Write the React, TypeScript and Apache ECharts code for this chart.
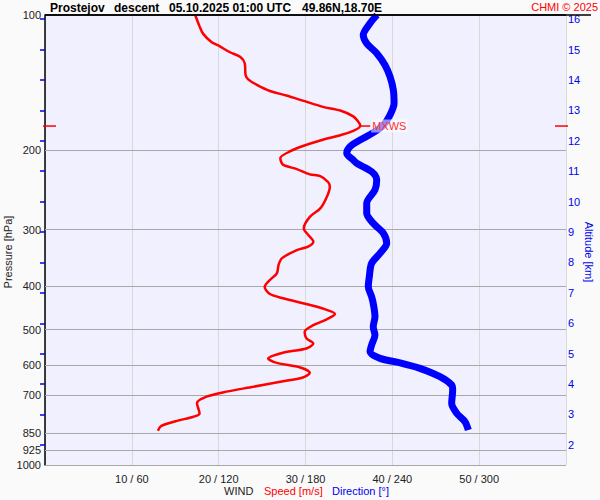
import React, { useEffect, useRef } from "react";
import * as echarts from "echarts";

const FONT = "'Liberation Sans', Arial, sans-serif";

// Wind speed profile (m/s) vs pressure (hPa)
const speedPressure = [100,106,110,115,117,121,124,128,136,139,143,147.5,151,155,160,163,168,174,176.5,181,185,190,195.5,201,208,215,220,226,228,235,241,255,269,281,298,308,319,327,333,347,359,375,388,402,417,426,437,449,462,475,489,506,523,537,551,563,580,593,607,624,639,653,670,687,705,729,768,781,798,819,839];
const speedValues = [17.3,17.8,18.2,19.2,20.0,21.3,22.5,23.0,23.1,23.4,24.4,25.9,27.8,29.7,32.0,34.0,35.5,36.2,36.3,35.5,34.0,31.7,29.7,28.2,27.1,27.4,29.0,30.5,31.7,32.6,32.8,32.4,31.7,30.5,29.8,30.3,30.9,30.3,29.0,27.3,26.9,26.7,25.9,25.3,25.9,27.4,29.7,32.0,33.4,32.4,30.9,29.9,30.1,30.9,30.1,27.4,25.7,26.7,29.4,30.5,29.7,27.1,24.0,20.9,18.6,17.5,17.8,17.1,15.2,13.4,13.0];

// Wind direction profile (deg) vs pressure (hPa)
const dirPressure = [100,104.3,110.8,115.6,121.6,129.1,137.1,146.8,157.1,166.8,175.6,182.6,189.6,196.2,202.9,210,213.6,222.9,232.6,244.8,262,275.9,290.3,305.6,321.6,338.4,356.3,381.5,401.6,422.7,437.3,468.3,492.9,514.2,541.2,560.1,579.5,592.7,609.8,636.5,664.1,681.3,729.4,767.6,801.3,836.1];
const dirValues = [229.4,224.6,219.9,222.3,229.2,234.9,238.4,240.7,241.2,238.4,233.8,226.8,217.7,210.7,208.5,213.0,215.4,225.7,229.2,228.0,222.3,222.3,226.8,233.8,236.1,231.5,225.7,224.1,223.4,225.7,226.8,228.0,226.8,228.0,225.7,224.6,231.5,245.3,259.1,272.9,281.0,281.7,281.0,284.5,290.2,292.5];

// Axis ticks
const pressureTicks = [100, 200, 300, 400, 500, 600, 700, 850, 925, 1000];
const speedTicks = [10, 20, 30, 40, 50];
const dirTicks = [60, 120, 180, 240, 300];
const altitudeTicks = [2, 3, 4, 5, 6, 7, 8, 9, 10, 11, 12, 13, 14, 15, 16];

const titleParts = ["Prostejov", "descent", "05.10.2025 01:00 UTC", "49.86N,18.70E"];

export default function App() {
  const ref = useRef<HTMLDivElement>(null);

  useEffect(() => {
    if (!ref.current) return;
    const chart = echarts.init(ref.current, undefined, { renderer: "svg" });

    let maxIdx = 0;
    speedValues.forEach((v, i) => {
      if (v > speedValues[maxIdx]) maxIdx = i;
    });
    const maxSpeed = speedValues[maxIdx];
    const maxP = speedPressure[maxIdx];

    const titleX = [50, 114, 169, 302];

    const txt = (text: string, x: number, y: number, fill: string, extra: any = {}) => ({
      type: "text",
      x,
      y,
      ...(extra.rotation !== undefined ? { rotation: extra.rotation } : {}),
      style: {
        text,
        fill,
        fontSize: extra.fontSize || 11,
        fontWeight: extra.fontWeight || "normal",
        fontFamily: FONT,
        align: extra.align || "left",
        verticalAlign: "middle",
        textAlign: extra.align || "left",
        textVerticalAlign: "middle",
      },
    });

    const option: any = {
      animation: false,
      backgroundColor: "#fafafa",
      textStyle: { fontFamily: FONT },
      grid: {
        left: 45,
        right: 34,
        top: 15,
        bottom: 35,
        show: true,
        backgroundColor: "#f0f0ff",
        borderWidth: 0,
      },
      xAxis: [
        {
          type: "value",
          min: 0,
          max: 60,
          interval: 10,
          axisLine: { show: false },
          axisTick: { show: false },
          minorTick: { show: false },
          minorSplitLine: { show: false },
          axisLabel: {
            fontSize: 11,
            color: "#222",
            fontFamily: FONT,
            margin: 8,
            formatter: (v: number) => {
              const i = speedTicks.indexOf(v);
              return i >= 0 ? `${speedTicks[i]} / ${dirTicks[i]}` : "";
            },
          },
          splitLine: { show: true, lineStyle: { color: "#d8d8d8", width: 1 } },
        },
        {
          type: "value",
          min: 0,
          max: 360,
          show: false,
        },
      ],
      yAxis: [
        {
          type: "log",
          logBase: 10,
          min: 100,
          max: 1000,
          inverse: true,
          axisLine: { show: true, lineStyle: { color: "#000", width: 1.5 } },
          axisTick: { show: false },
          minorTick: { show: false },
          minorSplitLine: { show: false },
          axisLabel: { show: false },
          splitLine: { show: false },
        },
        {
          type: "value",
          position: "right",
          min: 1.339,
          max: 16.137,
          axisLine: { show: false },
          minorTick: { show: false },
          axisTick: {
            show: true,
            inside: true,
            length: 5,
            customValues: altitudeTicks,
            lineStyle: { color: "#0000ee", width: 1.5 },
          },
          axisLabel: {
            show: true,
            customValues: altitudeTicks,
            color: "#0000ee",
            fontSize: 11,
            fontFamily: FONT,
            margin: 2,
          },
          splitLine: { show: false },
        },
      ],
      series: [
        {
          name: "Direction",
          type: "line",
          xAxisIndex: 1,
          yAxisIndex: 0,
          data: dirValues.map((d, i) => [d, dirPressure[i]]),
          showSymbol: false,
          smooth: 0.3,
          clip: false,
          lineStyle: { color: "#0000ff", width: 7 },
          z: 3,
        },
        {
          name: "Speed",
          type: "line",
          xAxisIndex: 0,
          yAxisIndex: 0,
          data: speedValues.map((s, i) => [s, speedPressure[i]]),
          showSymbol: false,
          smooth: 0.3,
          clip: false,
          lineStyle: { color: "#ff0000", width: 2.5 },
          z: 4,
          markLine: {
            silent: true,
            symbol: ["none", "none"],
            animation: false,
            z: 1,
            label: {
              show: true,
              position: "start",
              distance: 4,
              color: "#222",
              fontSize: 11,
              fontFamily: FONT,
              formatter: (p: any) => String(p.value),
            },
            data: pressureTicks.map((p) => ({
              yAxis: p,
              lineStyle: {
                color: p === 100 ? "#000" : "#a8a8a8",
                width: p === 100 ? 1.5 : 1,
                type: "solid",
              },
            })),
          },
          markPoint: {
            silent: true,
            animation: false,
            z: 10,
            data: [
              {
                coord: [maxSpeed, maxP],
                symbol: "rect",
                symbolSize: [10, 1.5],
                symbolOffset: [5, 0],
                itemStyle: { color: "#ff0000" },
                label: {
                  show: true,
                  position: "right",
                  distance: 1,
                  formatter: "MXWS",
                  color: "#ff3030",
                  fontSize: 11,
                  fontFamily: FONT,
                  backgroundColor: "rgba(255,255,255,0.55)",
                  padding: [1, 1],
                },
              },
              {
                coord: [0, maxP],
                symbol: "rect",
                symbolSize: [13, 1.5],
                symbolOffset: [4.5, 0],
                itemStyle: { color: "#ff0000" },
                label: { show: false },
              },
              {
                coord: [60, maxP],
                symbol: "rect",
                symbolSize: [13, 1.5],
                symbolOffset: [-4.5, 0],
                itemStyle: { color: "#ff0000" },
                label: { show: false },
              },
            ],
          },
        },
      ],
      graphic: [
        {
          type: "line",
          z: 100,
          shape: { x1: 45, y1: 15, x2: 591, y2: 15 },
          style: { stroke: "#000", lineWidth: 1.5 },
        },
        ...titleParts.map((t, i) =>
          txt(t, titleX[i], 8, "#000", { fontSize: 12, fontWeight: "bold" })
        ),
        txt("CHMI © 2025", 598, 7, "#ff0000", { align: "right" }),
        txt("Pressure [hPa]", 8, 252, "#222", { align: "center", rotation: Math.PI / 2 }),
        txt("Altitude [km]", 589, 252, "#0000ee", { align: "center", rotation: -Math.PI / 2 }),
        txt("WIND", 224, 491, "#222"),
        txt("Speed [m/s]", 264, 491, "#ff0000"),
        txt("Direction [°]", 332, 491, "#0000ee"),
      ],
    };

    chart.setOption(option);
    return () => chart.dispose();
  }, []);

  return (
    <div
      ref={ref}
      style={{ position: "fixed", left: 0, top: 0, width: 600, height: 500 }}
    />
  );
}
